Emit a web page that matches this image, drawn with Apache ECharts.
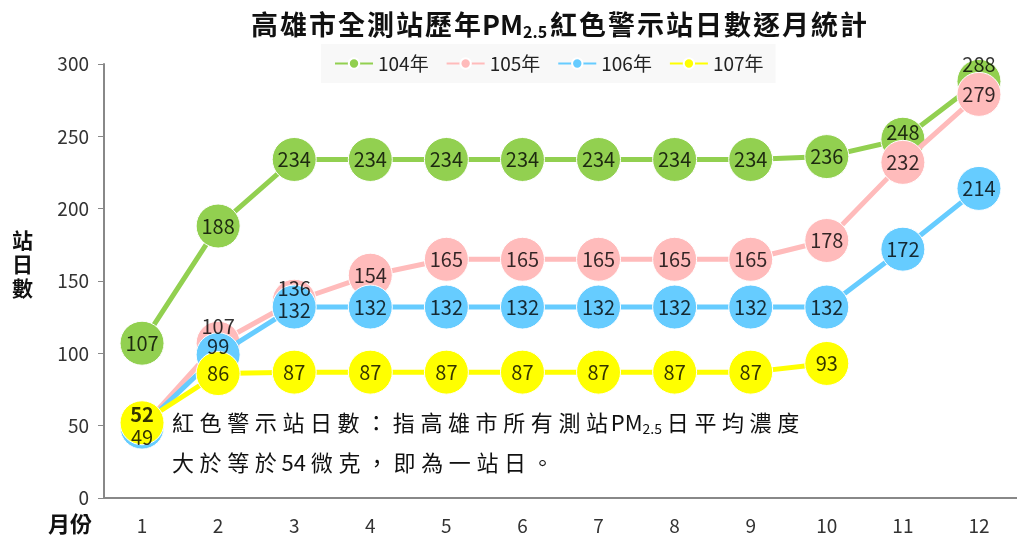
<!DOCTYPE html>
<html><head><meta charset="utf-8">
<script src="https://cdn.jsdelivr.net/npm/echarts@6/dist/echarts.min.js"></script>
<style>html,body{margin:0;padding:0;background:#fff}#c{width:1017px;height:552px}</style>
</head><body><div id="c"></div>
<script>
const months = ['1','2','3','4','5','6','7','8','9','10','11','12'];
const seriesNames = ['104年','105年','106年','107年'];
const y104 = [107,188,234,234,234,234,234,234,234,236,248,288];
const y105 = [49,107,136,154,165,165,165,165,165,178,232,279];
const y106 = [49,99,132,132,132,132,132,132,132,132,172,214];
const y107 = [52,86,87,87,87,87,87,87,87,93];
const yTicks = [0,50,100,150,200,250,300];

const colors = ['#92D050','#FFBBBB','#66CCFF','#FFFF00'];
// label vertical offsets (px) to avoid overlap, as in original; null = hidden
const labelOffsets = [
  {10:-7, 11:-17},
  {0:null, 1:-17, 2:-13},
  {0:10, 1:-8, 2:3},
  {0:-8}
];
const boldLabels = [[],[],[],[0]];
const allData = [y104,y105,y106,y107];
const font = '"Noto Sans CJK TC","Noto Sans",sans-serif';

function spaced(str, tok){
  return Array.from(str).map(ch=>'{'+tok+'|'+ch+'}').join('');
}

const lineSeries = allData.map((arr,si)=>({
  name: seriesNames[si],
  type:'line',
  symbol:'circle',
  symbolSize:44,
  lineStyle:{width:5,color:colors[si]},
  itemStyle:{color:colors[si],borderColor:'#fff',borderWidth:1},
  label:{show:false},
  z: 2+si,
  data: arr
}));

const labelSeries = allData.map((arr,si)=>({
  name: 'lbl'+si,
  type:'scatter',
  symbolSize:1,
  itemStyle:{color:'rgba(0,0,0,0)'},
  silent:true,
  z: 20,
  label:{show:true,position:'inside',color:'#000',fontSize:20,fontFamily:font},
  data: arr.map((v,i)=>{
    const o = labelOffsets[si][i];
    const item = {value:[i,v]};
    if (o === null) { item.label={show:false}; return item; }
    const lab = {formatter: String(v)};
    if (o !== undefined) lab.offset=[0,o];
    if (boldLabels[si].includes(i)) lab.fontWeight='bold';
    item.label = lab;
    return item;
  })
}));

const chart = echarts.init(document.getElementById('c'));
chart.setOption({
  animation:false,
  backgroundColor:'#fff',
  title:{
    text:spaced('高雄市全測站歷年','a')+'{p|PM}{s|2.5}'+spaced('紅色警示站日數逐月統計','a'),
    left:245, top:5,
    textStyle:{rich:{
      a:{fontSize:27,fontWeight:'bold',color:'#111',fontFamily:font,padding:[0,1,0,1]},
      p:{fontSize:27,fontWeight:'bold',color:'#111',fontFamily:font},
      s:{fontSize:16,fontWeight:'bold',color:'#111',fontFamily:font,padding:[14,2,0,0]}
    }}
  },
  legend:{
    data:seriesNames,
    top:44, left:321,
    backgroundColor:'#f8f8f8',
    padding:[10,12,10,13],
    itemGap:17,
    itemWidth:38,itemHeight:13,
    textStyle:{fontSize:19,color:'#222',fontFamily:font}
  },
  grid:{left:104,right:-1,top:64,bottom:54},
  xAxis:{
    type:'category',
    data:months,
    axisLine:{lineStyle:{color:'#888',width:2}},
    axisTick:{show:false},
    axisLabel:{fontSize:19,color:'#333',margin:18,fontFamily:font}
  },
  yAxis:{
    type:'value',min:yTicks[0],max:yTicks[yTicks.length-1],interval:50,
    splitLine:{show:false},
    axisLine:{show:true,lineStyle:{color:'#888',width:2}},
    axisTick:{show:true,length:6,lineStyle:{color:'#888'}},
    axisLabel:{fontSize:19,color:'#333',margin:15,fontFamily:font}
  },
  series:lineSeries.concat(labelSeries),
  graphic:[
    {type:'text',left:12,top:228,style:{text:'站\n日\n數',lineHeight:24,fill:'#111',font:'bold 21px '+font}},
    {type:'text',left:48,top:513,style:{text:'月份',fill:'#111',font:'bold 22px '+font}},
    {type:'text',left:172,top:412,style:{
      text:spaced('紅色警示站日數：指高雄市所有測站','a')+'{p|PM}{s|2.5}'+spaced('日平均濃度','a'),
      rich:{a:{fontSize:22,fill:'#111',fontFamily:font,padding:[0,2.8,0,2.8]},
            p:{fontSize:22,fill:'#111',fontFamily:font},
            s:{fontSize:14,fill:'#111',fontFamily:font,padding:[12,2,0,0]}}
    }},
    {type:'text',left:172,top:452,style:{
      text:spaced('大於等於','a')+'{p|54}'+spaced('微克，即為一站日。','a'),
      rich:{a:{fontSize:22,fill:'#111',fontFamily:font,padding:[0,2.8,0,2.8]},
            p:{fontSize:22,fill:'#111',fontFamily:font,padding:[0,2,0,2]}}
    }}
  ]
});
</script></body></html>
